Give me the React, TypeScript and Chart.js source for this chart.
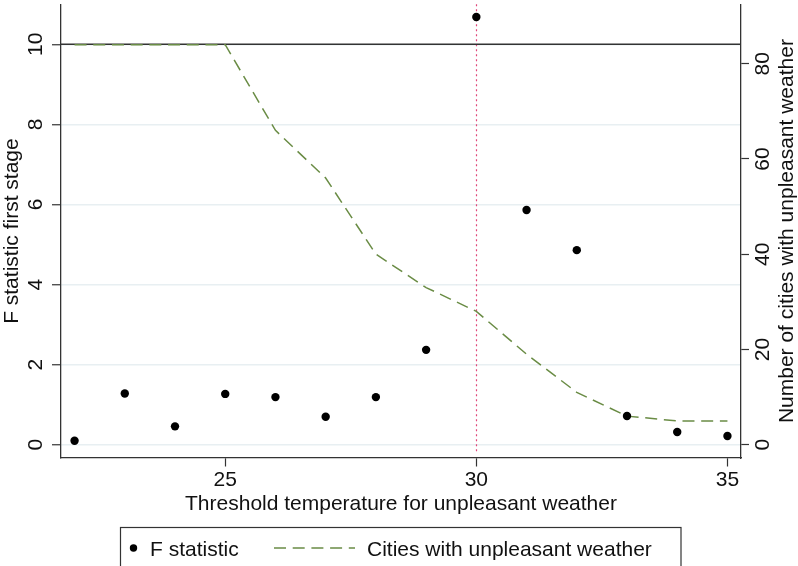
import React, { useEffect, useRef } from "react";
import { Chart, registerables } from "chart.js";

Chart.register(...registerables);

// ---- data ----
const THRESHOLDS = [22, 23, 24, 25, 26, 27, 28, 29, 30, 31, 32, 33, 34, 35];
const F_STAT = [0.1, 1.28, 0.46, 1.27, 1.19, 0.7, 1.19, 2.37, 10.68, 5.86, 4.86, 0.72, 0.32, 0.22];
const CITIES = [84, 84, 84, 84, 66, 56, 40, 33, 28, 19, 11, 6, 5, 5];

const X_TICKS = [25, 30, 35];
const F_TICKS = [0, 2, 4, 6, 8, 10];
const CITY_TICKS = [0, 20, 40, 60, 80];

const F_REFERENCE = 10;
const T_REFERENCE = 30;

const X_TITLE = "Threshold temperature for unpleasant weather";
const Y_TITLE = "F statistic first stage";
const Y1_TITLE = "Number of cities with unpleasant weather";
const LEGEND_LABELS = ["F statistic", "Cities with unpleasant weather"];

// ---- styles ----
const FONT_FAMILY = "'Liberation Sans', Arial, Helvetica, sans-serif";
const FONT_SIZE = 21;
const TEXT_COLOR = "#111111";
const AXIS_COLOR = "#333333";
const GRID_COLOR = "#e8eff2";
const DOT_COLOR = "#000000";
const LINE_COLOR = "#6a8c45";
const LINE_DASH = [12, 6.7];
const REF_V_COLOR = "#e0457a";

const overlayPlugin = {
  id: "overlay",
  beforeDatasetsDraw(chart: any) {
    const { ctx, chartArea, scales } = chart;
    const x = scales.x;
    const y = scales.y;
    ctx.save();
    // vertical dotted reference line
    const vx = Math.round(x.getPixelForValue(T_REFERENCE)) + 0.5;
    ctx.strokeStyle = REF_V_COLOR;
    ctx.lineWidth = 1.2;
    ctx.setLineDash([2, 3]);
    ctx.beginPath();
    ctx.moveTo(vx, chartArea.top);
    ctx.lineTo(vx, chartArea.bottom - 5);
    ctx.stroke();
    // horizontal solid reference line
    const hy = y.getPixelForValue(F_REFERENCE);
    ctx.setLineDash([]);
    ctx.strokeStyle = AXIS_COLOR;
    ctx.lineWidth = 1.4;
    ctx.beginPath();
    ctx.moveTo(chartArea.left, hy);
    ctx.lineTo(chartArea.right, hy);
    ctx.stroke();
    ctx.restore();
  },
  afterDraw(chart: any) {
    const { ctx, chartArea } = chart;
    ctx.save();
    // right axis title, rotated counter-clockwise
    ctx.font = `${FONT_SIZE}px ${FONT_FAMILY}`;
    ctx.fillStyle = TEXT_COLOR;
    ctx.textAlign = "center";
    ctx.textBaseline = "middle";
    ctx.translate(787, (chartArea.top + chartArea.bottom) / 2);
    ctx.rotate(-Math.PI / 2);
    ctx.fillText(Y1_TITLE, 0, 0);
    ctx.restore();

    // legend box
    ctx.save();
    ctx.strokeStyle = AXIS_COLOR;
    ctx.lineWidth = 1.2;
    ctx.strokeRect(120.5, 527.5, 560.5, 60);
    const ly = 548;
    // dot
    ctx.fillStyle = DOT_COLOR;
    ctx.beginPath();
    ctx.arc(133.5, ly, 3.7, 0, Math.PI * 2);
    ctx.fill();
    // dashed line
    ctx.strokeStyle = LINE_COLOR;
    ctx.lineWidth = 1.5;
    ctx.setLineDash(LINE_DASH);
    ctx.beginPath();
    ctx.moveTo(274, ly);
    ctx.lineTo(355, ly);
    ctx.stroke();
    ctx.setLineDash([]);
    // texts
    ctx.font = `${FONT_SIZE}px ${FONT_FAMILY}`;
    ctx.fillStyle = TEXT_COLOR;
    ctx.textAlign = "left";
    ctx.textBaseline = "alphabetic";
    ctx.fillText(LEGEND_LABELS[0], 150, 556);
    ctx.fillText(LEGEND_LABELS[1], 367, 556);
    ctx.restore();
  },
};

export default function App() {
  const canvasRef = useRef<HTMLCanvasElement | null>(null);

  useEffect(() => {
    if (!canvasRef.current) return;
    const font = { family: FONT_FAMILY, size: FONT_SIZE };
    const chart = new Chart(canvasRef.current, {
      type: "scatter",
      data: {
        datasets: [
          {
            label: LEGEND_LABELS[0],
            data: THRESHOLDS.map((t, i) => ({ x: t, y: F_STAT[i] })),
            yAxisID: "y",
            backgroundColor: DOT_COLOR,
            borderColor: DOT_COLOR,
            pointRadius: 4.2,
            pointBorderWidth: 0,
            showLine: false,
          },
          {
            label: LEGEND_LABELS[1],
            data: THRESHOLDS.map((t, i) => ({ x: t, y: CITIES[i] })),
            yAxisID: "y1",
            borderColor: LINE_COLOR,
            backgroundColor: LINE_COLOR,
            borderWidth: 1.5,
            borderDash: LINE_DASH,
            pointRadius: 0,
            showLine: true,
            tension: 0,
          },
        ],
      },
      options: {
        animation: false,
        responsive: false,
        devicePixelRatio: 1,
        layout: { padding: { top: 3, left: 0, right: 0, bottom: 48 } },
        plugins: {
          legend: { display: false },
          title: { display: false },
          tooltip: { enabled: false },
        },
        scales: {
          x: {
            type: "linear",
            position: "bottom",
            min: 21.73,
            max: 35.27,
            afterBuildTicks: (scale: any) => {
              scale.ticks = X_TICKS.map((v) => ({ value: v }));
            },
            afterFit: (scale: any) => {
              scale.height = 60;
              scale.paddingLeft = 0;
              scale.paddingRight = 0;
            },
            grid: {
              drawOnChartArea: false,
              drawTicks: true,
              tickLength: 8.5,
              tickColor: AXIS_COLOR,
              tickWidth: 1.2,
            },
            border: { display: true, color: AXIS_COLOR, width: 1.3 },
            ticks: { font, color: TEXT_COLOR, padding: 1.5, maxRotation: 0, minRotation: 0 },
            title: {
              display: true,
              text: X_TITLE,
              font,
              color: TEXT_COLOR,
              padding: { top: 0, bottom: 1 },
            },
          },
          y: {
            type: "linear",
            position: "left",
            min: -0.33,
            max: 11.0,
            afterBuildTicks: (scale: any) => {
              scale.ticks = F_TICKS.map((v) => ({ value: v }));
            },
            afterFit: (scale: any) => {
              scale.width = 61;
              scale.paddingTop = 0;
              scale.paddingBottom = 0;
            },
            grid: {
              drawOnChartArea: true,
              color: GRID_COLOR,
              lineWidth: 1.5,
              drawTicks: true,
              tickLength: 9,
              tickColor: AXIS_COLOR,
              tickWidth: 1.2,
            },
            border: { display: true, color: AXIS_COLOR, width: 1.3 },
            ticks: {
              font,
              color: TEXT_COLOR,
              padding: 4,
              minRotation: 90,
              maxRotation: 90,
              crossAlign: "center",
            },
            title: {
              display: true,
              text: Y_TITLE,
              font,
              color: TEXT_COLOR,
              padding: 0,
            },
          },
          y1: {
            type: "linear",
            position: "right",
            min: -2.79,
            max: 92.5,
            afterBuildTicks: (scale: any) => {
              scale.ticks = CITY_TICKS.map((v) => ({ value: v }));
            },
            afterFit: (scale: any) => {
              scale.width = 57;
              scale.paddingTop = 0;
              scale.paddingBottom = 0;
            },
            grid: {
              drawOnChartArea: false,
              drawTicks: true,
              tickLength: 8,
              tickColor: AXIS_COLOR,
              tickWidth: 1.2,
            },
            border: { display: true, color: AXIS_COLOR, width: 1.3 },
            ticks: {
              font,
              color: TEXT_COLOR,
              padding: 2.3,
              minRotation: 90,
              maxRotation: 90,
              crossAlign: "center",
            },
            title: { display: false },
          },
        },
      },
      plugins: [overlayPlugin],
    } as any);
    return () => chart.destroy();
  }, []);

  return (
    <div style={{ position: "absolute", left: 0, top: 0, width: 798, height: 566, background: "#ffffff" }}>
      <canvas ref={canvasRef} width={798} height={566} style={{ width: 798, height: 566 }} />
    </div>
  );
}
